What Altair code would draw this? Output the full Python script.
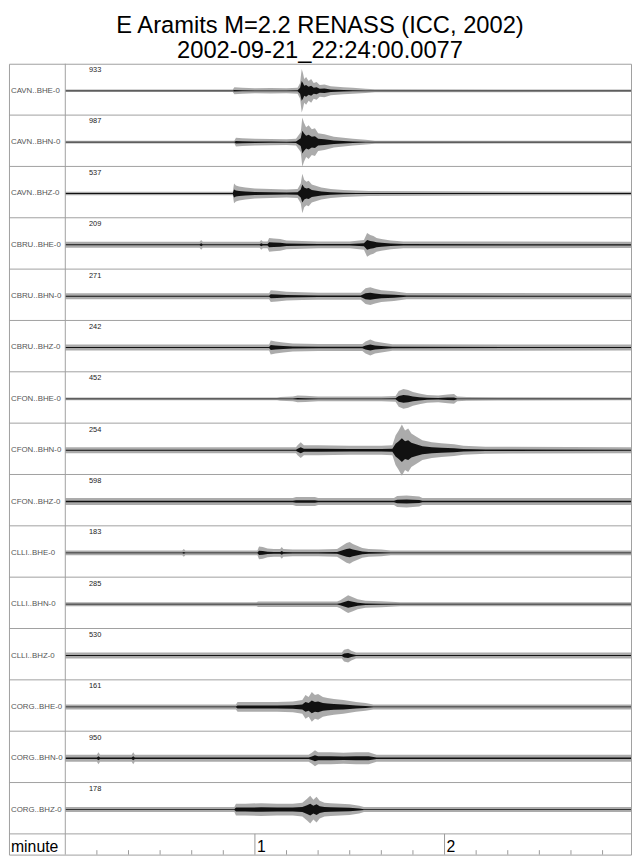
import altair as alt
import pandas as pd

FONT = "Liberation Sans"
TITLE = ["E Aramits M=2.2 RENASS (ICC, 2002)", "2002-09-21_22:24:00.0077"]

stations = ["CAVN..BHE-0", "CAVN..BHN-0", "CAVN..BHZ-0",
            "CBRU..BHE-0", "CBRU..BHN-0", "CBRU..BHZ-0",
            "CFON..BHE-0", "CFON..BHN-0", "CFON..BHZ-0",
            "CLLI..BHE-0", "CLLI..BHN-0", "CLLI..BHZ-0",
            "CORG..BHE-0", "CORG..BHN-0", "CORG..BHZ-0"]
peaks = [933, 987, 537, 209, 271, 242, 452, 254, 598, 183, 285, 530, 161, 950, 178]

# envelope of each trace: time (s) and half-amplitude
times = [
    [0, 53, 53.5, 56, 60, 65, 70, 73.5, 74.3, 74.8, 75.2, 75.6, 76.2, 77, 77.8, 78.6, 79.5, 80.5, 82, 84, 86, 88, 91, 95, 98, 179],
    [0, 53.5, 54, 56, 60, 65, 70, 73, 74.5, 75, 75.5, 76.2, 77, 78, 79, 80, 82, 85, 88, 91, 95, 98, 179],
    [0, 53, 53.4, 54, 55, 57, 60, 65, 70, 73.5, 74.5, 75, 75.6, 76.3, 77, 78, 79, 81, 84, 88, 92, 96, 179],
    [0, 42.5, 43, 43.5, 61.5, 62, 62.5, 64, 64.5, 66, 68, 70, 75, 80, 85, 90, 94.5, 95.5, 96.5, 97.5, 98.5, 100, 103, 107, 179],
    [0, 64.5, 65, 67, 70, 75, 80, 93.5, 95, 96.5, 98, 100, 104, 108, 179],
    [0, 64.5, 65, 66.5, 69, 72, 80, 94, 95, 96.5, 98, 100, 103.5, 179],
    [0, 67, 68, 72, 73.5, 76, 80, 90, 100, 104.5, 105.5, 107, 108.5, 110, 112, 114.5, 118, 121, 123, 124, 127, 137, 179],
    [0, 73, 73.5, 74.5, 75.5, 80, 90, 100, 103.5, 104.5, 105.5, 106.5, 107.5, 108.5, 109.5, 111, 113, 116, 119, 123, 126, 133, 179],
    [0, 72, 73, 79, 80, 104, 105, 108, 112, 113, 179],
    [0, 37, 37.5, 38, 60.8, 61.3, 62.5, 64, 66, 68, 68.5, 69, 72, 80, 86, 87.5, 89, 90, 91, 92.5, 94, 96, 100, 103, 179],
    [0, 60.5, 61, 86, 87, 88.5, 89.5, 91, 92.5, 95, 100, 106, 179],
    [0, 87.5, 88.2, 89.5, 90.5, 92, 179],
    [0, 54, 54.5, 57, 62, 67, 72, 75, 76, 77, 78, 79, 80, 81.5, 83, 85, 88, 90, 92, 95, 97.5, 179],
    [0, 10, 10.5, 11, 21, 21.5, 22, 77, 78, 79, 80, 84, 88, 92, 96, 97.5, 98.5, 179],
    [0, 53.5, 54, 57, 62, 67, 72, 75, 76.5, 77.5, 78.5, 79.5, 80.5, 82, 84, 87, 90, 93, 94.5, 179],
]
amps = [
    [1.3, 1.3, 3.5, 3, 2.5, 2.8, 2.5, 3, 8, 22, 18, 12, 14, 10, 12, 8, 9, 6, 6.5, 4.5, 4, 3.5, 3, 2.2, 1.5, 1.3],
    [1.3, 1.3, 4.5, 4, 3.5, 3.2, 3, 3.5, 10, 25, 20, 15, 17, 13, 14, 9, 8, 5.5, 4.5, 3.5, 2.5, 1.5, 1.3],
    [1.8, 1.8, 10, 8, 7, 6, 5, 4.5, 4, 4.5, 10, 20, 14, 12, 13, 9, 8, 6, 4.5, 3.5, 3, 2.5, 1.8],
    [3, 3, 5, 3, 3, 5, 3.5, 3.5, 7, 6.5, 6, 4.5, 4, 3.5, 3.5, 3.5, 5, 12, 10, 9, 7, 6, 4.5, 3.5, 3.2],
    [3, 3, 6, 5.5, 4.5, 4, 3.5, 3.5, 8, 9, 7.5, 6, 5, 3.2, 3],
    [3, 3, 7, 6, 5, 4, 3.5, 3.5, 6, 8, 6, 5, 3.3, 3],
    [1.4, 1.4, 2, 2.5, 3.5, 3.2, 2.5, 2.3, 2.3, 3, 8, 10, 9, 7, 5.5, 4, 3.5, 4.5, 5, 2.5, 2, 1.6, 1.4],
    [3, 3, 5, 8, 5, 5, 4.5, 4.5, 5, 15, 20, 26, 20, 22, 17, 14, 10, 8, 7, 6, 4.5, 3.5, 3],
    [3.5, 3.5, 4.5, 4.5, 3.5, 3.5, 5.5, 6, 5, 3.5, 3.5],
    [2.5, 2.5, 4, 2.5, 2.5, 6.5, 6, 4.5, 4, 4, 6, 4, 3.5, 3.5, 4, 7, 10, 11, 9, 7, 5, 4, 3.5, 2.5, 2.5],
    [2, 2, 2.7, 2.7, 4, 7, 9, 7, 5, 3.5, 3, 2, 2],
    [3, 3, 6, 7, 5, 3, 3],
    [2.5, 2.5, 5, 5, 5, 5, 5.5, 7, 12, 10, 15, 12, 13, 10, 9, 8, 7, 6, 5, 4, 2.5, 2.5],
    [3.5, 3.5, 6, 3.5, 3.5, 6, 3.5, 3.5, 5.5, 8, 6, 6, 5.5, 6, 6, 4.5, 3.5, 3.5],
    [2.5, 2.5, 6, 6, 6.5, 6, 6, 7, 11, 14, 10, 13, 9, 7, 6.5, 6, 5.5, 4, 2.5, 2.5],
]

minor_ticks = [10, 20, 30, 40, 50, 70, 80, 90, 100, 110, 130, 140, 150, 160, 170]
major_ticks = [60, 120]
major_labels = ["1", "2"]

# layout constants (pixel units on the y scale, seconds on the x scale)
T_MAX = 179
PX_PER_S = 3.2
LAB_W = 57
T_MIN = -LAB_W / PX_PER_S
ROW_H = 52
BASE = 27.4
AX_H = 21
N = len(stations)
TOTAL_H = N * ROW_H + AX_H
W = round((T_MAX - T_MIN) * PX_PER_S)

xs = alt.Scale(domain=[T_MIN, T_MAX], nice=False, zero=False)
ys = alt.Scale(domain=[0, TOTAL_H], nice=False, zero=False, reverse=True)

recs = []
for i in range(N):
    for t, a in zip(times[i], amps[i]):
        recs.append({"row": i, "t": t, "a": a})
trace_df = pd.DataFrame(recs)

rows_df = pd.DataFrame({"row": list(range(N)), "name": stations,
                        "peak": [str(p) for p in peaks]})

X = lambda f: alt.X(f, scale=xs, axis=None)
Y = lambda f: alt.Y(f, scale=ys, axis=None)

base = alt.Chart(trace_df).transform_calculate(
    mid=f"datum.row*{ROW_H} + {BASE}",
    core="max(datum.a*0.5 - 1.0, 0.4)",
).transform_calculate(
    lo="datum.mid - datum.a", hi="datum.mid + datum.a",
    lo2="datum.mid - datum.core", hi2="datum.mid + datum.core",
)
outer = base.mark_area(color="black", opacity=0.33).encode(
    x=X("t:Q"), y=Y("lo:Q"), y2="hi:Q", detail="row:N")
inner = base.mark_area(color="black", opacity=0.9).encode(
    x=X("t:Q"), y=Y("lo2:Q"), y2="hi2:Q", detail="row:N")

labels = alt.Chart(rows_df).transform_calculate(
    mid=f"datum.row*{ROW_H} + {BASE}", top=f"datum.row*{ROW_H} + 6.5"
)
name_txt = labels.mark_text(align="left", baseline="middle", dx=2, fontSize=8,
                            font=FONT, color="#555555").encode(
    x=alt.X(datum=T_MIN, scale=xs, axis=None), y=Y("mid:Q"), text="name:N")
peak_txt = labels.mark_text(align="left", baseline="middle", fontSize=7.5,
                            font=FONT, color="#222222").encode(
    x=alt.X(datum=7.5, scale=xs, axis=None), y=Y("top:Q"), text="peak:N")

sep_df = pd.DataFrame({"k": list(range(1, N + 1))})
hsep = alt.Chart(sep_df).transform_calculate(yy=f"datum.k*{ROW_H}").mark_rule(
    color="#a0a0a0", strokeWidth=1).encode(
    x=alt.X(datum=T_MIN, scale=xs, axis=None), x2=alt.X2(datum=T_MAX), y=Y("yy:Q"))
vsep = alt.Chart(pd.DataFrame({"t": [0]})).mark_rule(color="#a0a0a0", strokeWidth=1).encode(
    x=X("t:Q"), y=alt.Y(datum=0, scale=ys, axis=None), y2=alt.Y2(datum=TOTAL_H))

minor_df = pd.DataFrame({"t": minor_ticks})
major_df = pd.DataFrame({"t": major_ticks, "lab": major_labels})
minor = alt.Chart(minor_df).mark_rule(color="#999999", strokeWidth=1).encode(
    x=X("t:Q"), y=alt.Y(datum=TOTAL_H - 4.5, scale=ys, axis=None), y2=alt.Y2(datum=TOTAL_H))
major = alt.Chart(major_df).mark_rule(color="#999999", strokeWidth=1).encode(
    x=X("t:Q"), y=alt.Y(datum=N * ROW_H, scale=ys, axis=None), y2=alt.Y2(datum=TOTAL_H))
major_txt = alt.Chart(major_df).mark_text(
    align="left", baseline="alphabetic", dx=2, fontSize=16, font=FONT, color="black"
).encode(x=X("t:Q"), y=alt.Y(datum=TOTAL_H - 3, scale=ys, axis=None), text="lab:N")
minute_txt = alt.Chart(pd.DataFrame({"lab": ["minute"]})).mark_text(
    align="left", baseline="alphabetic", dx=2, fontSize=16, font=FONT, color="black"
).encode(x=alt.X(datum=T_MIN, scale=xs, axis=None),
         y=alt.Y(datum=TOTAL_H - 3, scale=ys, axis=None), text="lab:N")

chart = alt.layer(
    outer, inner, hsep, vsep, name_txt, peak_txt, minor, major, major_txt, minute_txt
).properties(
    width=W, height=TOTAL_H,
    title=alt.TitleParams(text=TITLE, fontSize=24, lineHeight=26, font=FONT,
                          fontWeight="normal", anchor="middle", offset=0, color="black"),
    padding={"left": 0, "right": 0, "top": 0, "bottom": 0},
).configure_view(stroke="#a0a0a0", strokeWidth=1)

chart.save("out.html", embed_options={"renderer": "svg", "actions": False})
